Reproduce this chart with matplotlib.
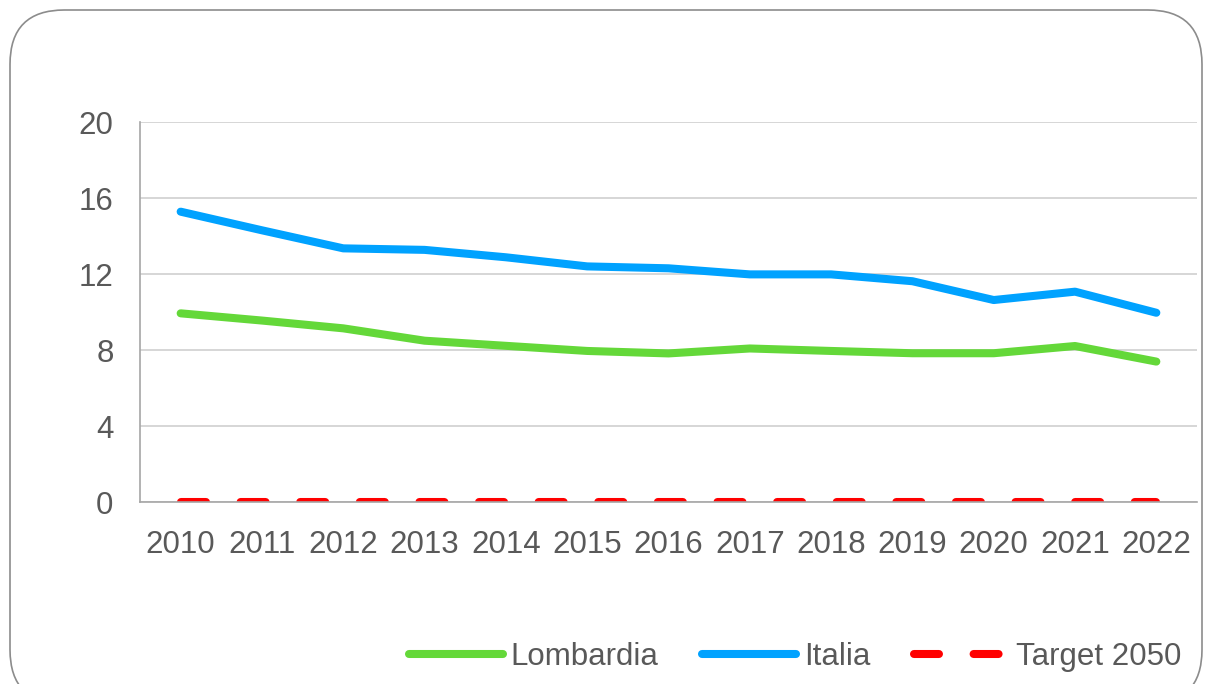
import numpy as np
import matplotlib.pyplot as plt
from matplotlib.patches import FancyBboxPatch

years = ['2010', '2011', '2012', '2013', '2014', '2015', '2016',
         '2017', '2018', '2019', '2020', '2021', '2022']
lombardia = [9.93, 9.55, 9.14, 8.49, 8.22, 7.95, 7.82,
             8.08, 7.95, 7.83, 7.83, 8.21, 7.39]
italia = [15.28, 14.3, 13.35, 13.27, 12.88, 12.4, 12.3,
          11.98, 11.98, 11.62, 10.63, 11.07, 9.96]
target_2050 = [0] * 13
y_ticks = [0, 4, 8, 12, 16, 20]

plt.rcParams['font.family'] = ['Liberation Sans', 'DejaVu Sans']
text_color = '#595959'

W, H = 1207, 684
fig = plt.figure(figsize=(W / 100, H / 100), dpi=100)

# rounded frame around the chart
frame = FancyBboxPatch((10 / W, -20 / H), (1202 - 10) / W, (H - 10 + 20) / H,
                       boxstyle='round,pad=0,rounding_size=0.045',
                       transform=fig.transFigure, facecolor='none',
                       edgecolor='#8c8c8c', linewidth=1.2, zorder=-1,
                       mutation_aspect=W / H)
fig.patches.append(frame)

ax = fig.add_axes([140 / W, 1 - 502 / H, (1197 - 140) / W, (502 - 122) / H])
ax.set_facecolor('none')

x = np.arange(len(years))
lw = 5.8
ax.plot(x, lombardia, color='#64d839', lw=lw, solid_capstyle='round',
        solid_joinstyle='round', label='Lombardia', zorder=3)
ax.plot(x, italia, color='#00a2ff', lw=lw, solid_capstyle='round',
        solid_joinstyle='round', label='Italia', zorder=3)
ax.plot(x, target_2050, color='#ff0000', lw=lw, linestyle=(0, (3.1, 4.3)),
        dash_capstyle='round', label='Target 2050', zorder=2)

ax.set_xlim(-0.5, len(years) - 0.5)
ax.set_ylim(0, 20)
ax.set_yticks(y_ticks)
ax.set_xticks(x)
ax.set_xticklabels(years)
ax.grid(axis='y', color='#d0d0d0', linewidth=1.2)
ax.set_axisbelow(True)

for side in ['top', 'right']:
    ax.spines[side].set_visible(False)
for side in ['left', 'bottom']:
    ax.spines[side].set_color('#a6a6a6')
    ax.spines[side].set_linewidth(1.2)

ax.tick_params(axis='both', length=0, labelsize=22.5, colors=text_color)
ax.tick_params(axis='y', pad=19)
ax.tick_params(axis='x', pad=20)

fig.legend(loc='center', bbox_to_anchor=(795 / W, 1 - 657 / H),
           ncol=3, frameon=False, fontsize=22.5, labelcolor=text_color,
           handlelength=3.0, handletextpad=0.25, columnspacing=1.4)

fig.savefig('out.png', dpi=100)
